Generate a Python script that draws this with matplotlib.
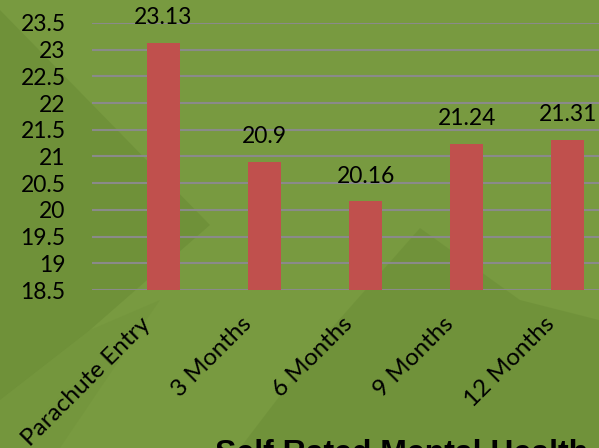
import matplotlib
matplotlib.use("Agg")
import matplotlib.pyplot as plt
from matplotlib.patches import Polygon

categories = ["Parachute Entry", "3 Months", "6 Months", "9 Months", "12 Months"]
scores = [23.13, 20.9, 20.16, 21.24, 21.31]
y_ticks = [18.5, 19, 19.5, 20, 20.5, 21, 21.5, 22, 22.5, 23, 23.5]
title = "Self Rated Mental Health"

bg_green = "#789a40"
bar_red = "#c0504d"

fig = plt.figure(figsize=(5.99, 4.48), dpi=100)
fig.patch.set_facecolor(bg_green)

# background texture (slide artwork) on its own axes behind the chart
bg = fig.add_axes([0, 0, 1, 1], zorder=-5)
bg.set_xlim(0, 599)
bg.set_ylim(448, 0)
bg.axis("off")
shapes = [
    [(0, 10), (210, 225), (90, 330), (0, 400)],
    [(240, 448), (330, 330), (420, 228), (520, 300), (599, 320), (599, 448)],
    [(0, 448), (0, 400), (90, 330), (160, 300), (60, 448)],
]
alphas = [0.3, 0.25, 0.12]
for pts, a in zip(shapes, alphas):
    bg.add_patch(Polygon(pts, closed=True, facecolor="#5c7d2c", alpha=a, edgecolor="none"))

ax = fig.add_axes([92 / 599, 1 - 290 / 448, 1 - 92 / 599, (290 - 23) / 448])
ax.set_facecolor("none")

x = range(len(categories))
ax.bar(x, scores, width=0.33, color=bar_red, zorder=3)

ax.set_ylim(18.5, 23.5)
ax.set_xlim(-0.708, 4.31)
ax.set_yticks(y_ticks)
ax.set_yticklabels([f"{t:g}" for t in y_ticks], fontsize=16.5, family="Lato")
ax.yaxis.grid(True, color="#8a8a8a", linewidth=1.5, zorder=1)
ax.tick_params(axis="y", length=0, pad=19)
ax.tick_params(axis="x", length=0)
for s in ax.spines.values():
    s.set_visible(False)

ax.set_xticks(list(x))
ax.set_xticklabels([])
for i, name in enumerate(categories):
    ax.annotate(name, (i, 18.5), xytext=(-12, -22), textcoords="offset points",
                rotation=45, rotation_mode="anchor", ha="right", va="center",
                fontsize=17.5, family="Lato")

for i, v in enumerate(scores):
    ax.annotate(f"{v:g}", (i, v), xytext=(0, 18), textcoords="offset points",
                ha="center", va="center", fontsize=16.5, family="Lato")

fig.text(0.671, -0.031, title, ha="center", va="baseline", fontsize=23,
         fontweight="bold", family="Liberation Sans")

fig.savefig("out.png", dpi=100, facecolor=fig.get_facecolor())
